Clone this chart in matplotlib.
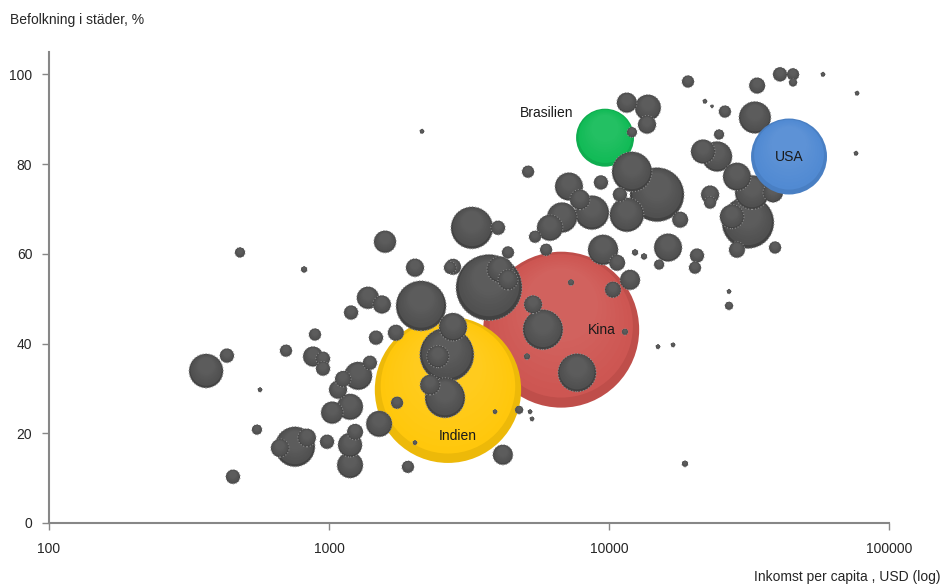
import numpy as np
import matplotlib.pyplot as plt
from matplotlib.colors import to_rgb

plt.rcParams['font.family'] = ['Liberation Sans Narrow', 'Liberation Sans', 'DejaVu Sans']

# Utvalda länder: inkomst per capita (USD), andel i städer (%), folkmängd (milj.)
land = ["Indien", "Kina", "Brasilien", "USA"]
land_inkomst = [2660, 6750, 9680, 43950]
land_stad = [29.7, 43.1, 85.9, 81.7]
land_folk = [1180, 1340, 185, 318]

# Övriga länder
inkomst = [364, 432, 481, 815, 1585, 2028, 2704, 1377, 1545, 2132,
           1199, 891, 1472, 1733, 2773, 702, 877, 952, 952, 567,
           1400, 1271, 1122, 1077, 1189, 1026, 1510, 1750, 2636, 2449,
           2596, 2296, 756, 834, 668, 984, 1189, 1239, 1189, 553,
           454, 1914, 2028, 4178, 3917, 4775, 5226, 5309, 5808, 5355,
           5096, 7690, 7317, 11400, 14960, 16930, 3727, 4080, 4357, 2773,
           3240, 4015, 5443, 5960, 4357, 9523, 10690, 11890, 10330, 16250,
           20620, 20280, 15100, 12390, 13340, 26830, 26830, 18680, 11580, 13770,
           13670, 12080, 5140, 12080, 14840, 9360, 7195, 7870, 8690, 6795,
           6150, 11580, 10940, 17950, 2148, 19150, 22010, 23330, 21660, 22960,
           22960, 33810, 40820, 45420, 45420, 58100, 76900, 76240, 25940, 33200,
           24720, 24320, 28640, 32430, 31350, 27470, 28640, 39180, 38540]
stad = [33.9, 37.3, 60.3, 56.5, 62.7, 56.9, 56.9, 50.2, 48.7, 48.4,
        46.9, 42.0, 41.3, 42.4, 43.7, 38.4, 37.1, 36.6, 34.4, 29.7,
        35.7, 32.8, 32.1, 29.7, 25.9, 24.6, 22.1, 26.8, 37.5, 37.1,
        27.9, 30.8, 17.0, 19.0, 16.7, 18.1, 17.4, 20.3, 12.9, 20.8,
        10.3, 12.5, 17.9, 15.2, 24.8, 25.2, 24.8, 23.2, 43.1, 48.7,
        37.1, 33.5, 53.6, 42.6, 39.3, 39.7, 52.5, 56.5, 54.2, 57.1,
        65.8, 65.8, 63.8, 60.9, 60.3, 60.9, 58.0, 54.2, 52.0, 61.4,
        59.6, 56.9, 57.6, 60.3, 59.4, 51.6, 48.4, 13.2, 93.7, 92.6,
        88.8, 87.1, 78.3, 78.3, 73.2, 75.9, 75.0, 72.1, 69.2, 68.1,
        65.8, 68.7, 73.2, 67.6, 87.3, 98.4, 94.0, 92.9, 82.8, 73.2,
        71.4, 97.5, 100.0, 100.0, 98.2, 100.0, 95.8, 82.4, 91.7, 90.4,
        86.6, 81.7, 77.2, 73.7, 67.0, 68.3, 60.9, 61.4, 73.7]
folk = [64, 11, 5.5, 2, 27, 18, 8, 27, 18, 138,
        11, 8, 11, 14, 43, 8, 22, 11, 11, 1,
        11, 43, 14, 18, 37, 27, 37, 8, 161, 27,
        88, 22, 88, 18, 18, 11, 32, 14, 37, 5.5,
        11, 8, 1, 22, 1, 3.5, 1, 1, 88, 18,
        2, 80, 2, 2, 1, 1, 240, 37, 22, 14,
        97, 11, 8, 8, 8, 50, 14, 22, 14, 43,
        11, 8, 5.5, 2, 2, 1, 3.5, 2, 22, 37,
        18, 5.5, 8, 88, 161, 11, 43, 22, 64, 50,
        37, 64, 11, 14, 1, 8, 1, 0.3, 32, 18,
        8, 14, 11, 8, 3.5, 1, 1, 1, 8, 56,
        5.5, 50, 43, 64, 149, 32, 14, 8, 22]

land_farg = {"Indien": "#FFC70A", "Kina": "#CD5450", "Brasilien": "#10BA55", "USA": "#4F89D2"}
text_pos = {"Indien": (7, -33), "Kina": (29, 0), "Brasilien": (-42, 18), "USA": (0, 0)}
gra = "#4E4E4E"

fig = plt.figure(figsize=(9.42, 5.87), dpi=100)
ax = fig.add_axes([49 / 942, 64 / 587, 840 / 942, 471 / 587])
ax.set_xscale('log')
ax.set_xlim(100, 100000)
ax.set_ylim(0, 105)


def blanda(a, b, t):
    a, b = np.array(to_rgb(a)), np.array(to_rgb(b))
    return tuple(a + (b - a) * t)


def bubbla(x, y, pop, farg, kant, mork):
    # skuggad bubbla: mörkare kant, ljusare mot toppen
    r = max(2.13 * np.sqrt(pop), 1.5)
    cx, cy = ax.transData.transform((x, y))
    n = 10
    t = np.linspace(0, 1, n)
    rad = r * np.concatenate([[1.0], 0.975 - 0.5 * t[1:]])
    dy = r * np.concatenate([[0.0], 0.015 + 0.3 * t[1:]])
    farger = [blanda(farg, "black", mork)]
    farger += [blanda(farg, "white", 0.08 * tt) for tt in t[1:]]
    pos = ax.transData.inverted().transform(np.column_stack([np.full(n, cx), cy + dy]))
    s = (1.44 * rad) ** 2
    ec = [kant] + ["none"] * (n - 1)
    lw = [0.8] + [0] * (n - 1)
    ax.scatter(pos[:, 0], pos[:, 1], s=s, c=farger, edgecolors=ec,
               linewidths=lw, linestyles=':', zorder=3)


# största bubblorna ritas först
alla = [(inkomst[i], stad[i], folk[i], gra, "#8E8E8E", 0.15) for i in range(len(folk))]
for i, namn in enumerate(land[:3]):
    alla.append((land_inkomst[i], land_stad[i], land_folk[i], land_farg[namn], "none", 0.07))
alla.sort(key=lambda b: -b[2])
for b in alla:
    bubbla(*b)
bubbla(land_inkomst[3], land_stad[3], land_folk[3], land_farg["USA"], "none", 0.07)

for i, namn in enumerate(land):
    ax.annotate(namn, (land_inkomst[i], land_stad[i]), xytext=text_pos[namn],
                textcoords='offset points', ha='center', va='center',
                fontsize=10, color="#1A1A1A", zorder=5)

for side in ['top', 'right']:
    ax.spines[side].set_visible(False)
for side in ['left', 'bottom']:
    ax.spines[side].set_color("#878787")
    ax.spines[side].set_linewidth(1.5)

ax.set_xticks([100, 1000, 10000, 100000])
ax.set_xticklabels(["100", "1000", "10000", "100000"])
ax.minorticks_off()
ax.set_yticks([0, 20, 40, 60, 80, 100])
ax.tick_params(axis='both', direction='out', length=5, width=1, color="#878787",
               labelsize=10, labelcolor="#262626")
ax.tick_params(axis='x', pad=9)
ax.tick_params(axis='y', pad=7)

fig.text(10 / 942, 1 - 20 / 587, "Befolkning i städer, %", ha='left', va='center',
         fontsize=10, color="#262626")
fig.text(940 / 942, 1 - 577 / 587, "Inkomst per capita , USD (log)", ha='right', va='center',
         fontsize=10, color="#262626")

fig.savefig("out.png", dpi=100)
